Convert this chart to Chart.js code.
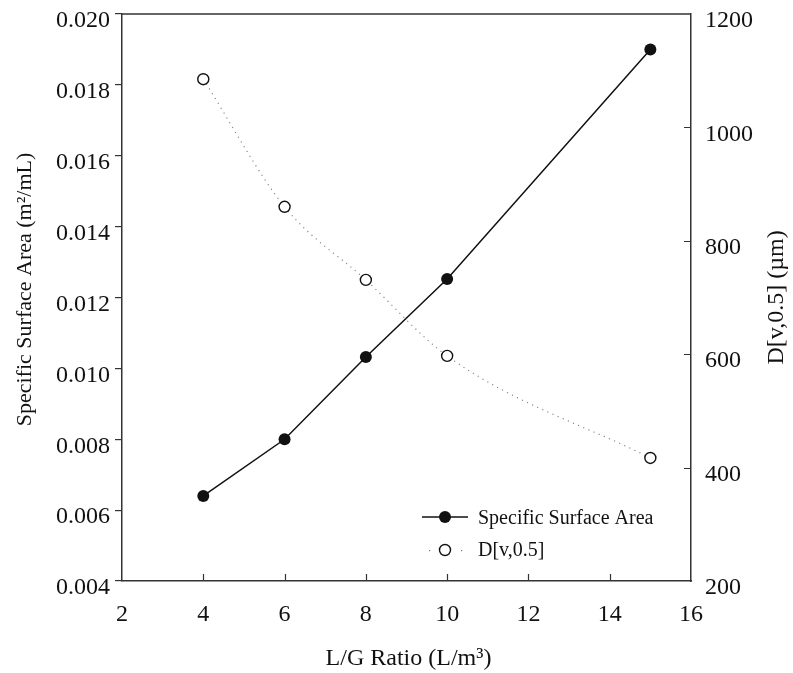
<!DOCTYPE html>
<html>
<head>
<meta charset="utf-8">
<script src="https://cdn.jsdelivr.net/npm/chart.js@4"></script>
<style>
  html, body { margin: 0; padding: 0; background: #fff; }
  #wrap { width: 793px; height: 673px; position: relative; }
</style>
</head>
<body>
<div id="wrap"><canvas id="chart"></canvas></div>
<script>
// data
const lgRatio = [4, 6, 8, 10, 15];
const surfaceArea = [0.0064, 0.0080, 0.01032, 0.01252, 0.0190];
const dv50 = [1085, 860, 731, 597, 417];

const xTicks = [2, 4, 6, 8, 10, 12, 14, 16];
const leftTicks = [0.004, 0.006, 0.008, 0.010, 0.012, 0.014, 0.016, 0.018, 0.020];
const rightTicks = [200, 400, 600, 800, 1000, 1200];

const fontFam = "'Liberation Serif', 'Times New Roman', serif";
const ink = '#111';

// draws the box top, inward ticks, axis titles and the legend
const extras = {
    id: 'extras',
    afterDraw(chart) {
        const ctx = chart.ctx;
        const area = chart.chartArea;
        const xs = chart.scales.x;
        const yr = chart.scales.y1;
        ctx.save();
        ctx.strokeStyle = '#333';
        ctx.lineWidth = 1.5;
        ctx.beginPath();
        ctx.moveTo(area.left, area.top);
        ctx.lineTo(area.right, area.top);
        ctx.stroke();

        // inward ticks on bottom axis
        ctx.lineWidth = 1.2;
        ctx.beginPath();
        xTicks.forEach(v => {
            if (v === xTicks[0] || v === xTicks[xTicks.length - 1]) return;
            const px = Math.round(xs.getPixelForValue(v)) + 0.5;
            ctx.moveTo(px, area.bottom);
            ctx.lineTo(px, area.bottom - 7);
        });
        // inward ticks on right axis
        rightTicks.forEach(v => {
            if (v === rightTicks[0] || v === rightTicks[rightTicks.length - 1]) return;
            const py = Math.round(yr.getPixelForValue(v)) + 0.5;
            ctx.moveTo(area.right, py);
            ctx.lineTo(area.right - 7, py);
        });
        ctx.stroke();

        // axis titles
        ctx.fillStyle = ink;
        ctx.textAlign = 'center';
        ctx.textBaseline = 'middle';
        const midX = (area.left + area.right) / 2;
        const midY = (area.top + area.bottom) / 2;
        ctx.font = '24px ' + fontFam;
        ctx.fillText('L/G Ratio (L/m\u00B3)', midX + 2, 659);

        ctx.save();
        ctx.font = '22px ' + fontFam;
        ctx.translate(25, midY - 8);
        ctx.rotate(-Math.PI / 2);
        ctx.fillText('Specific Surface Area (m\u00B2/mL)', 0, 0);
        ctx.restore();

        ctx.save();
        ctx.font = '24px ' + fontFam;
        ctx.translate(777, midY);
        ctx.rotate(-Math.PI / 2);
        ctx.fillText('D[v,0.5] (\u00B5m)', 0, 0);
        ctx.restore();

        // legend inside the plot, bottom right
        const lx = area.left + 323;
        const ly1 = area.bottom - 64;
        const ly2 = area.bottom - 31;
        ctx.strokeStyle = ink;
        ctx.lineWidth = 1.5;
        ctx.beginPath();
        ctx.moveTo(lx - 23, ly1);
        ctx.lineTo(lx + 23, ly1);
        ctx.stroke();
        ctx.fillStyle = ink;
        ctx.beginPath();
        ctx.arc(lx, ly1, 6, 0, Math.PI * 2);
        ctx.fill();

        ctx.fillStyle = '#777';
        ctx.fillRect(lx - 16, ly2, 1.2, 1.2);
        ctx.fillRect(lx + 16, ly2, 1.2, 1.2);
        ctx.strokeStyle = ink;
        ctx.lineWidth = 1.4;
        ctx.beginPath();
        ctx.arc(lx, ly2, 5.5, 0, Math.PI * 2);
        ctx.stroke();

        ctx.fillStyle = ink;
        ctx.font = '20px ' + fontFam;
        ctx.textAlign = 'left';
        ctx.fillText('Specific Surface Area', lx + 33, ly1 + 2);
        ctx.fillText('D[v,0.5]', lx + 33, ly2 + 1);
        ctx.restore();
    }
};

// keep the y axes from reserving room above the plot for their labels
function fitY(width) {
    return s => {
        s.width = width;
        s.paddingTop = 0;
        s.paddingBottom = 0;
    };
}

const ctxEl = document.getElementById('chart');
new Chart(ctxEl, {
    type: 'line',
    data: {
        datasets: [
            {
                label: 'Specific Surface Area',
                data: lgRatio.map((x, i) => ({ x: x, y: surfaceArea[i] })),
                yAxisID: 'y',
                borderColor: ink,
                borderWidth: 1.5,
                pointRadius: 6,
                pointBackgroundColor: ink,
                pointBorderColor: ink,
                pointBorderWidth: 0,
                tension: 0
            },
            {
                label: 'D[v,0.5]',
                data: lgRatio.map((x, i) => ({ x: x, y: dv50[i] })),
                yAxisID: 'y1',
                borderColor: '#777',
                borderWidth: 1.1,
                borderDash: [1.1, 4.5],
                cubicInterpolationMode: 'monotone',
                pointRadius: 5.5,
                pointBackgroundColor: '#fff',
                pointBorderColor: ink,
                pointBorderWidth: 1.4
            }
        ]
    },
    options: {
        responsive: true,
        maintainAspectRatio: false,
        animation: false,
        events: [],
        layout: { padding: { top: 14, left: 0, right: 0, bottom: 0 } },
        plugins: {
            legend: { display: false },
            tooltip: { enabled: false }
        },
        scales: {
            x: {
                type: 'linear',
                min: 2,
                max: 16,
                afterBuildTicks: s => { s.ticks = xTicks.map(v => ({ value: v })); },
                afterFit: s => { s.height = 92; },
                border: { color: '#333', width: 1.5 },
                grid: { display: false, drawTicks: false },
                ticks: {
                    color: ink,
                    padding: 19,
                    font: { family: fontFam, size: 24 }
                }
            },
            y: {
                position: 'left',
                min: 0.004,
                max: 0.020,
                afterBuildTicks: s => { s.ticks = leftTicks.map(v => ({ value: v })); },
                afterFit: fitY(122),
                border: { color: '#333', width: 1.5 },
                grid: { drawOnChartArea: false, drawTicks: true, tickLength: 7, color: '#333', lineWidth: 1.2 },
                ticks: {
                    color: ink,
                    padding: 5,
                    labelOffset: 7,
                    font: { family: fontFam, size: 24 },
                    callback: v => v.toFixed(3)
                }
            },
            y1: {
                position: 'right',
                min: 200,
                max: 1200,
                afterBuildTicks: s => { s.ticks = rightTicks.map(v => ({ value: v })); },
                afterFit: fitY(102),
                border: { color: '#333', width: 1.5 },
                grid: { display: false, drawTicks: false },
                ticks: {
                    color: ink,
                    padding: 14,
                    labelOffset: 7,
                    font: { family: fontFam, size: 24 },
                    callback: v => String(v)
                }
            }
        }
    },
    plugins: [extras]
});
</script>
</body>
</html>
